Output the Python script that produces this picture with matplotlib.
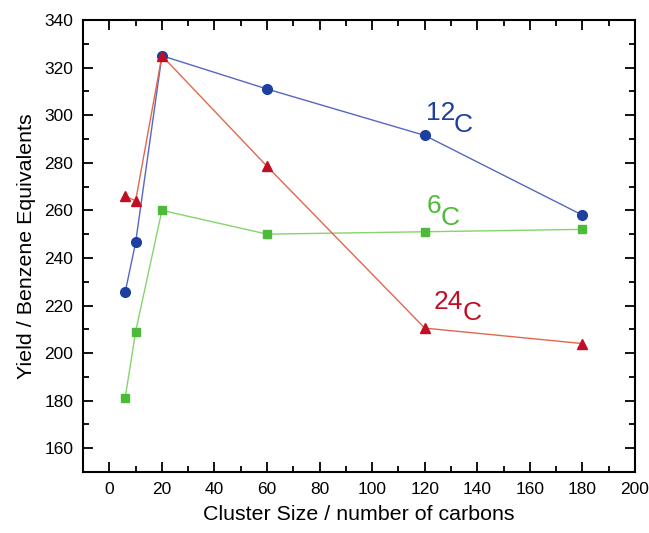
import matplotlib
matplotlib.use("Agg")
import matplotlib.pyplot as plt
from matplotlib.ticker import MultipleLocator

plt.rcParams['font.family'] = ['Liberation Sans', 'DejaVu Sans']

x = [6, 10, 20, 60, 120, 180]
c12 = [225.5, 246.5, 325, 311, 291.5, 258]
c24 = [266, 264, 325, 278.5, 210.5, 204]
c6 = [181, 209, 260, 250, 251, 252]

fig = plt.figure(figsize=(6.49, 5.33), dpi=100)
ax = fig.add_axes([0.128, 0.1144, 0.8504, 0.848])

ax.plot(x, c6, '-', color='#86d46e', lw=1.0, zorder=2)
ax.plot(x, c6, 's', color='#4dbb3a', ms=6, mec='#4dbb3a', zorder=3)
ax.plot(x, c12, '-', color='#5566c4', lw=1.0, zorder=2)
ax.plot(x, c12, 'o', color='#1c3fa0', ms=7, mec='#1c3fa0', zorder=3)
ax.plot(x, c24, '-', color='#e2674f', lw=1.0, zorder=4)
ax.plot(x, c24, '^', color='#c00f25', ms=7.5, mec='#c00f25', zorder=5)

fs_lab = 19
ax.text(120.4, 297.9, '12', color='#1c3fa0', fontsize=fs_lab, ha='left', va='baseline')
ax.text(131.0, 292.8, 'C', color='#1c3fa0', fontsize=fs_lab, ha='left', va='baseline')
ax.text(120.7, 258.7, '6', color='#4dbb3a', fontsize=fs_lab, ha='left', va='baseline')
ax.text(126.0, 253.7, 'C', color='#4dbb3a', fontsize=fs_lab, ha='left', va='baseline')
ax.text(123.4, 218.7, '24', color='#c00f25', fontsize=fs_lab, ha='left', va='baseline')
ax.text(134.5, 213.7, 'C', color='#c00f25', fontsize=fs_lab, ha='left', va='baseline')

ax.set_xlim(-10, 200)
ax.set_ylim(150, 340)
ax.xaxis.set_major_locator(MultipleLocator(20))
ax.xaxis.set_minor_locator(MultipleLocator(10))
ax.yaxis.set_major_locator(MultipleLocator(20))
ax.yaxis.set_minor_locator(MultipleLocator(10))
ax.tick_params(which='both', direction='in', top=True, right=True, width=1.3, labelsize=12.5)
ax.tick_params(which='major', length=7, pad=7)
ax.tick_params(which='minor', length=4)
ax.set_xticks([0, 20, 40, 60, 80, 100, 120, 140, 160, 180, 200])
ax.set_yticks([160, 180, 200, 220, 240, 260, 280, 300, 320, 340])
for s in ax.spines.values():
    s.set_linewidth(1.5)

ax.set_xlabel('Cluster Size / number of carbons', fontsize=15.4, labelpad=6)
ax.set_ylabel('Yield / Benzene Equivalents', fontsize=15.4, labelpad=6)

fig.savefig('out.png', dpi=100)
